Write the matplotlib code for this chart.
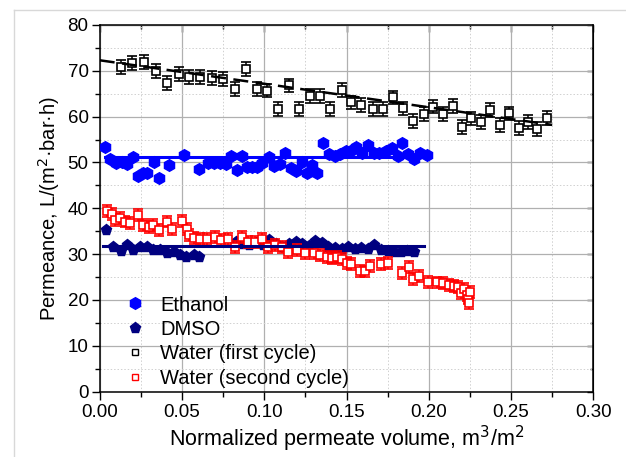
import numpy as np
import matplotlib
matplotlib.use("Agg")
import matplotlib.pyplot as plt
from matplotlib.lines import Line2D
from matplotlib.ticker import MultipleLocator, FormatStrFormatter

plt.rcParams['font.family'] = ['Liberation Sans', 'DejaVu Sans']

# ---- data -------------------------------------------------------------
ethanol_x = [0.0032, 0.0063, 0.0097, 0.0134, 0.0168, 0.0200, 0.0230, 0.0260, 0.0290,
             0.0328, 0.0360, 0.0420, 0.0513, 0.0606, 0.0660, 0.0697, 0.0730, 0.0768,
             0.0798, 0.0833, 0.0863, 0.0894, 0.0925, 0.0954, 0.0985, 0.1030, 0.1060,
             0.1096, 0.1127, 0.1160, 0.1194, 0.1228, 0.1259, 0.1289, 0.1320, 0.1360,
             0.1394, 0.1427, 0.1460, 0.1496, 0.1532, 0.1560, 0.1597, 0.1630, 0.1670,
             0.1700, 0.1740, 0.1775, 0.1810, 0.1840, 0.1876, 0.1910, 0.1947, 0.1988]
ethanol_y = [53.3, 50.7, 49.8, 50.2, 49.6, 51.1, 47.1, 47.8, 47.6,
             50.2, 46.7, 49.5, 51.6, 48.5, 49.8, 49.8, 49.8, 49.6,
             51.3, 48.4, 51.3, 48.9, 49.0, 49.1, 49.8, 51.1, 49.2,
             49.6, 52.0, 48.7, 48.2, 50.0, 47.6, 49.5, 47.6, 54.2,
             51.9, 51.4, 51.9, 52.4, 52.7, 53.3, 52.1, 53.8, 52.1,
             52.1, 52.6, 53.1, 51.3, 54.3, 51.9, 50.7, 52.0, 51.6]
ethanol_level = 51.2
ethanol_span = [0.003, 0.197]

dmso_x = [0.0038, 0.0083, 0.0128, 0.0164, 0.0204, 0.0245, 0.0286, 0.0326, 0.0367,
          0.0407, 0.0452, 0.0488, 0.0525, 0.0570, 0.0606,
          0.083, 0.087, 0.091, 0.095, 0.099, 0.103, 0.107, 0.111, 0.115, 0.119,
          0.123, 0.127, 0.131, 0.135, 0.139, 0.143, 0.147, 0.151, 0.155, 0.159,
          0.163, 0.167, 0.171, 0.175, 0.179, 0.183, 0.187, 0.191]
dmso_y = [35.3, 31.5, 30.7, 32.0, 30.9, 31.5, 31.6, 30.9, 30.9,
          30.2, 30.5, 29.8, 29.3, 29.8, 29.4,
          32.6, 32.2, 31.9, 32.4, 32.0, 33.0, 32.3, 31.6, 32.1, 32.6,
          32.2, 31.8, 32.9, 32.4, 31.6, 31.3, 31.0, 31.5, 31.2, 31.4,
          31.0, 32.0, 30.8, 30.6, 30.5, 30.5, 30.6, 30.5]
dmso_level = 31.8
dmso_span = [0.002, 0.197]

water1_x = [0.0130, 0.0198, 0.0270, 0.0340, 0.0410, 0.0480, 0.0545, 0.0610, 0.0680,
            0.0750, 0.0820, 0.0890, 0.0955, 0.1015, 0.1086, 0.1150, 0.1210, 0.1280,
            0.1340, 0.1400, 0.1470, 0.1530, 0.1590, 0.1660, 0.1720, 0.1780, 0.1846,
            0.1907, 0.1970, 0.2025, 0.2085, 0.2145, 0.2200, 0.2257, 0.2316, 0.2373,
            0.2430, 0.2490, 0.2547, 0.2606, 0.2660, 0.2718]
water1_y = [70.8, 71.7, 72.0, 70.0, 67.3, 69.3, 68.7, 68.7, 68.4,
            68.2, 66.0, 70.4, 66.0, 65.7, 61.6, 66.8, 61.6, 64.5,
            64.5, 61.6, 65.8, 63.1, 62.6, 61.6, 61.6, 64.2, 61.8,
            59.1, 60.5, 62.2, 60.5, 62.4, 57.8, 59.6, 58.8, 61.5,
            58.2, 60.7, 57.5, 58.9, 57.3, 59.7]
water1_err = 1.5
water1_fit = (72.3, -51.3)          # intercept, slope
water1_fit_span = [0.0, 0.275]

water2_x = [0.0042, 0.0073, 0.0093, 0.0123, 0.0154, 0.0184, 0.0230, 0.0265, 0.0302,
            0.0326, 0.0362, 0.0407, 0.0438, 0.0498, 0.0533, 0.0545, 0.0575, 0.0610,
            0.0650, 0.0700, 0.0740, 0.0780, 0.0823, 0.0863, 0.0900, 0.0944, 0.0985,
            0.1025, 0.1066, 0.1107, 0.1147, 0.1200, 0.1250, 0.1300, 0.1340, 0.1380,
            0.1410, 0.1440, 0.1470, 0.1500, 0.1530, 0.1580, 0.1610, 0.1640, 0.1710,
            0.1750, 0.1840, 0.1880, 0.1906, 0.1940, 0.1997, 0.2048, 0.2089, 0.2125,
            0.2154, 0.2180, 0.2197, 0.2215, 0.2231, 0.2241, 0.2247, 0.2250]
water2_y = [39.5, 38.8, 37.4, 37.8, 37.1, 36.7, 38.5, 36.4, 35.9,
            36.4, 35.3, 37.1, 35.4, 37.3, 35.4, 34.2, 33.5, 33.2,
            33.2, 33.7, 33.1, 33.2, 31.5, 33.8, 32.7, 32.7, 33.2,
            31.6, 32.0, 31.6, 30.5, 30.9, 30.3, 30.2, 29.8, 29.4,
            29.1, 29.4, 28.9, 28.1, 27.8, 26.4, 26.2, 27.4, 27.8,
            28.1, 25.9, 27.1, 24.5, 25.2, 24.0, 23.8, 23.6, 23.3,
            23.0, 22.9, 21.4, 22.3, 21.1, 20.3, 19.3, 21.8]
water2_err = 1.3

labels = ["Ethanol", "DMSO", "Water (first cycle)", "Water (second cycle)"]
colors = ["#0000FF", "#000080", "#000000", "#FF0000"]

# ---- figure -----------------------------------------------------------
fig = plt.figure(figsize=(6.26, 4.57), dpi=100)
ax = fig.add_axes([0.1593, 0.1433, 0.7885, 0.802])

# faint figure frame
fig.add_artist(Line2D([14/626, 14/626], [0, 1 - 10/457], color="#d8d8d8", lw=1.0,
                      transform=fig.transFigure))
fig.add_artist(Line2D([14/626, 1], [1 - 10/457, 1 - 10/457], color="#d8d8d8", lw=1.0,
                      transform=fig.transFigure))

ax.set_xlim(0, 0.30)
ax.set_ylim(0, 80)
ax.xaxis.set_major_locator(MultipleLocator(0.05))
ax.xaxis.set_minor_locator(MultipleLocator(0.025))
ax.yaxis.set_major_locator(MultipleLocator(10))
ax.yaxis.set_minor_locator(MultipleLocator(5))
ax.xaxis.set_major_formatter(FormatStrFormatter('%.2f'))

ax.grid(which='major', color='#b0b0b0', lw=0.9, zorder=0)
ax.grid(which='minor', color='#d0d0d0', lw=0.7, ls=(0, (1.5, 2)), zorder=0)
ax.set_axisbelow(True)

# ethanol
ax.plot(ethanol_x, ethanol_y, ls='none', marker='h', ms=8.4, color=colors[0],
        mec=colors[0], zorder=3)
ax.plot(ethanol_span, [ethanol_level] * 2, color=colors[0], lw=2.2, zorder=3)

# DMSO
ax.plot(dmso_x, dmso_y, ls='none', marker='p', ms=8.0, color=colors[1],
        mec=colors[1], zorder=3)

# water, first cycle
ax.errorbar(water1_x, water1_y, yerr=water1_err, fmt='s', ms=5.6, mfc='white',
            mec=colors[2], mew=1.2, ecolor=colors[2], elinewidth=1.1, capsize=3.3,
            capthick=1.2, zorder=4)
fx = np.array(water1_fit_span)
ax.plot(fx, water1_fit[0] + water1_fit[1] * fx, color='black', lw=1.8,
        ls=(0, (6, 3)), zorder=5)

# water, second cycle
ax.errorbar(water2_x, water2_y, yerr=water2_err, fmt='s', ms=5.6, mfc='white',
            mec=colors[3], mew=1.2, ecolor=colors[3], elinewidth=1.1, capsize=3.3,
            capthick=1.2, zorder=4)

ax.plot(dmso_span, [dmso_level] * 2, color=colors[1], lw=2.2, zorder=5)

# axes styling
for s in ax.spines.values():
    s.set_linewidth(1.1)
ax.tick_params(axis='both', which='both', labelsize=13.5, width=1.0)
ax.tick_params(axis='x', which='both', bottom=True, direction='out')
ax.tick_params(axis='y', which='both', left=True, direction='out')
ax.tick_params(axis='x', which='major', length=6, pad=3)
ax.tick_params(axis='x', which='minor', length=3.5)
ax.tick_params(axis='y', which='major', length=6, pad=2)
ax.tick_params(axis='y', which='minor', length=3.5)
ax.tick_params(top=False, right=False, which='both')
# inward ticks on the top and right edges
sec_x = ax.secondary_xaxis('top')
sec_x.set_xticks(np.arange(0, 0.301, 0.05))
sec_x.xaxis.set_minor_locator(MultipleLocator(0.025))
sec_x.tick_params(which='both', direction='in', labeltop=False, width=1.0)
sec_x.tick_params(which='major', length=5)
sec_x.tick_params(which='minor', length=3)
sec_y = ax.secondary_yaxis('right')
sec_y.set_yticks(np.arange(0, 81, 10))
sec_y.yaxis.set_minor_locator(MultipleLocator(5))
sec_y.tick_params(which='both', direction='in', labelright=False, width=1.0)
sec_y.tick_params(which='major', length=4)
sec_y.tick_params(which='minor', length=2.5)

ax.set_xlabel("Normalized permeate volume, m$^3$/m$^2$", fontsize=15.5, labelpad=2)
ax.set_ylabel("Permeance, L/(m$^2$·bar·h)", fontsize=14.5, labelpad=4)

handles = [
    Line2D([], [], ls='none', marker='h', ms=8.4, color=colors[0]),
    Line2D([], [], ls='none', marker='p', ms=8.0, color=colors[1]),
    Line2D([], [], ls='none', marker='s', ms=5, mfc='white', mec=colors[2], mew=1.0),
    Line2D([], [], ls='none', marker='s', ms=5, mfc='white', mec=colors[3], mew=1.0),
]
ax.legend(handles, labels, loc='lower left', bbox_to_anchor=(0.035, -0.012),
          frameon=False, fontsize=14.5, handlelength=1.0, handletextpad=0.75,
          labelspacing=0.27, borderaxespad=0.0)

fig.savefig("out.png", dpi=100)
